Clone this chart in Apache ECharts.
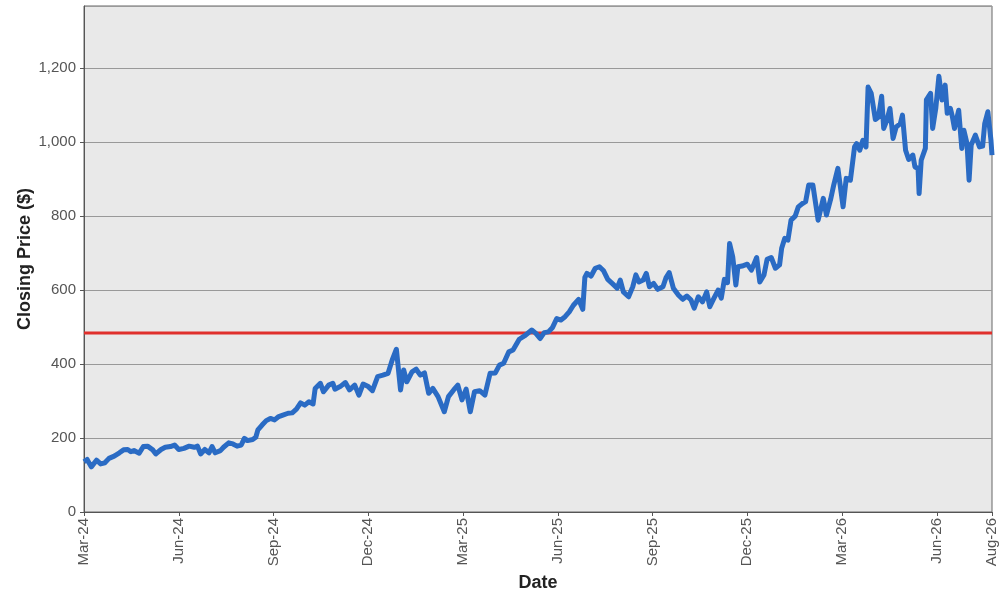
<!DOCTYPE html>
<html>
<head>
<meta charset="utf-8">
<script src="https://cdn.jsdelivr.net/npm/echarts@6/dist/echarts.min.js"></script>
<style>
html,body{margin:0;padding:0;background:#fff;}
#c{width:1000px;height:600px;}
</style>
</head>
<body>
<div id="c"></div>
<script>
// day offsets from 2024-03-15
const days = [0,3,7,12,16,20,24,29,34,38,42,45,48,53,57,61,66,69,74,78,83,87,91,96,101,106,109,112,116,120,123,126,131,134,139,143,147,151,154,157,162,165,167,171,175,179,183,187,191,196,200,204,208,212,216,220,222,227,230,235,239,241,246,251,255,260,264,268,273,277,282,287,292,296,300,304,307,310,315,319,323,327,331,335,340,346,350,355,359,363,367,371,375,380,385,390,395,399,403,408,412,418,423,430,434,438,442,446,450,454,458,462,466,470,475,479,481,483,487,491,495,499,503,508,512,515,518,523,527,530,533,537,540,543,547,551,556,559,562,566,571,575,579,583,586,590,594,598,601,605,609,612,615,618,620,623,626,628,632,637,641,646,649,653,656,660,664,668,670,673,676,679,683,686,690,693,696,700,705,710,713,717,720,724,729,732,736,740,742,745,748,751,753,756,760,763,766,768,771,774,777,780,784,786,789,792,796,798,801,802,804,808,809,813,815,818,821,824,827,829,832,834,836,840,843,845,848,850,852,856,860,863,865,868,871,872];
const prices = [136,142,122,140,130,133,145,151,160,168,169,163,166,159,177,178,168,157,169,175,177,181,169,172,178,175,178,157,169,160,177,160,166,175,187,184,178,181,199,193,196,202,222,235,247,253,249,258,262,267,268,278,295,289,298,292,334,348,325,343,348,332,339,350,330,343,316,346,339,328,366,370,375,411,440,330,384,352,379,386,370,376,321,334,312,271,312,330,343,303,332,271,325,328,316,375,376,397,402,433,438,467,476,492,483,469,485,487,499,523,519,528,541,559,575,548,634,645,638,659,663,652,629,616,605,627,595,582,609,641,622,627,645,609,618,602,609,634,647,605,586,575,584,573,551,582,568,595,555,578,600,578,629,620,726,690,614,663,665,670,654,688,622,641,683,688,659,668,713,740,735,789,800,825,834,839,884,884,789,848,803,845,884,929,825,902,897,987,996,978,1005,987,1149,1132,1061,1068,1124,1037,1059,1091,1010,1041,1050,1073,978,953,965,933,929,861,951,983,1114,1132,1037,1091,1178,1114,1154,1078,1091,1068,1037,1086,983,1032,996,897,992,1019,987,989,1050,1082,1005,965];
const threshold = 484;
const startDate = Date.UTC(2024, 2, 15);
const endDay = 872;
const monthNames = ['Jan','Feb','Mar','Apr','May','Jun','Jul','Aug','Sep','Oct','Nov','Dec'];

const chart = echarts.init(document.getElementById('c'));
const font = 'Liberation Sans, Arial, sans-serif';
chart.setOption({
  animation: false,
  backgroundColor: '#ffffff',
  grid: {left: 84, right: 8, top: 6, bottom: 88, show: true, backgroundColor: '#e9e9e9', borderColor: '#666666', borderWidth: 1, containLabel: false},
  xAxis: {
    type: 'value', min: 0, max: endDay, interval: 91,
    name: 'Date', nameLocation: 'middle', nameGap: 62, nameMoveOverlap: false,
    nameTextStyle: {fontFamily: font, fontWeight: 'bold', fontSize: 18, color: '#222'},
    axisLine: {show: true, lineStyle: {color: '#555', width: 1}},
    axisTick: {show: true, length: 4, lineStyle: {color: '#555'}},
    splitLine: {show: false},
    axisLabel: {
      rotate: 90, fontFamily: font, fontSize: 15, color: '#555', margin: 6,
      showMinLabel: true, showMaxLabel: true,
      formatter: function (v) {
        const d = new Date(startDate + Math.round(v) * 86400000);
        return monthNames[d.getUTCMonth()] + '-' + String(d.getUTCFullYear()).slice(2);
      }
    }
  },
  yAxis: {
    type: 'value', min: 0, max: 1368, interval: 200,
    name: 'Closing Price ($)', nameLocation: 'middle', nameGap: 50, nameMoveOverlap: false,
    nameTextStyle: {fontFamily: font, fontWeight: 'bold', fontSize: 18, color: '#222'},
    axisLine: {show: true, lineStyle: {color: '#555', width: 1}},
    axisTick: {show: true, length: 4, lineStyle: {color: '#555'}},
    splitLine: {show: true, lineStyle: {color: '#999', width: 1}},
    axisLabel: {fontFamily: font, fontSize: 15, color: '#555', margin: 8, showMaxLabel: false,
      formatter: function (v) { return v.toLocaleString('en-US'); }}
  },
  series: [
    {
      type: 'line', data: [[0, threshold], [endDay, threshold]], showSymbol: false, silent: true,
      lineStyle: {color: '#e0302c', width: 3}, z: 1
    },
    {
      type: 'line', data: days.map((d, i) => [d, prices[i]]), showSymbol: false,
      lineStyle: {color: '#2a6bc4', width: 5, join: 'round'}, z: 2
    }
  ]
});
</script>
</body>
</html>
